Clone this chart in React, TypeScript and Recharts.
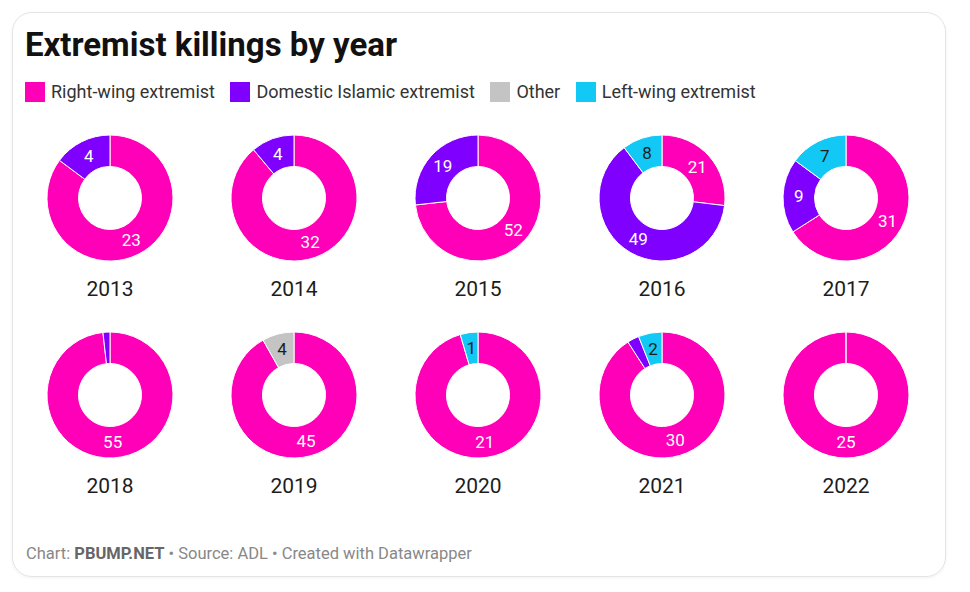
import React from "react";
import { PieChart, Pie, Cell } from "recharts";

// Killings per year by category (ADL)
const years = ["2013", "2014", "2015", "2016", "2017", "2018", "2019", "2020", "2021", "2022"];
const rightWing = [23, 32, 52, 21, 31, 55, 45, 21, 30, 25];
const islamic = [4, 4, 19, 49, 9, 1, 0, 0, 1, 0];
const other = [0, 0, 0, 0, 0, 0, 4, 0, 0, 0];
const leftWing = [0, 0, 0, 8, 7, 0, 0, 1, 2, 0];

const categories = ["Right-wing extremist", "Domestic Islamic extremist", "Other", "Left-wing extremist"];
const colors = ["#ff00b8", "#8000ff", "#c4c4c4", "#12c8f4"];
const labelColors = ["#ffffff", "#ffffff", "#1d1d1d", "#1d1d1d"];

const FONT = "Roboto, 'Noto Sans', sans-serif";
const RAD = Math.PI / 180;

function SliceLabel(props: any) {
  const { cx, cy, innerRadius, outerRadius, midAngle, startAngle, endAngle, value, index } = props;
  if (Math.abs(endAngle - startAngle) < 12) return null;
  const r = (innerRadius + outerRadius) / 2;
  const x = cx + r * Math.cos(-midAngle * RAD);
  const y = cy + r * Math.sin(-midAngle * RAD);
  const cat = props.payload?.cat ?? index;
  return (
    <text x={x} y={y} fill={labelColors[cat]} textAnchor="middle" dominantBaseline="central"
      style={{ fontFamily: FONT, fontSize: 17 }}>
      {value}
    </text>
  );
}

function Donut({ i }: { i: number }) {
  const data = [rightWing[i], islamic[i], other[i], leftWing[i]]
    .map((v, cat) => ({ name: categories[cat], value: v, cat }))
    .filter((d) => d.value > 0);
  return (
    <PieChart width={184} height={140} margin={{ top: 0, right: 0, bottom: 0, left: 0 }}>
      <Pie
        data={data} dataKey="value" cx={92} cy={70}
        innerRadius={31.5} outerRadius={63}
        startAngle={90} endAngle={-270}
        stroke="#ffffff" strokeWidth={1}
        label={SliceLabel} labelLine={false}
        isAnimationActive={false}
      >
        {data.map((d) => <Cell key={d.cat} fill={colors[d.cat]} />)}
      </Pie>
    </PieChart>
  );
}

export default function App() {
  return (
    <div style={{ position: "absolute", left: 0, top: 0, width: 970, height: 592, background: "#fff", fontFamily: FONT, overflow: "hidden" }}>
      <div style={{
        position: "absolute", left: 12, top: 12, width: 932, height: 563,
        border: "1px solid #e4e4e4", borderRadius: 20, boxShadow: "0 1px 3px rgba(0,0,0,0.06)",
      }} />
      <div style={{ position: "absolute", left: 25, top: 27.5, fontSize: 33, fontWeight: 700, lineHeight: 1, color: "#111", whiteSpace: "nowrap" }}>
        Extremist killings by year
      </div>
      <div style={{ position: "absolute", left: 25, top: 81.7, height: 20, display: "flex", alignItems: "center", whiteSpace: "nowrap" }}>
        {categories.map((c, k) => (
          <div key={c} style={{ display: "flex", alignItems: "center", marginRight: 15.5 }}>
            <span style={{ width: 20, height: 20, background: colors[k], display: "inline-block", marginRight: 6 }} />
            <span style={{ fontSize: 18, lineHeight: "20px", color: "#333" }}>{c}</span>
          </div>
        ))}
      </div>
      {years.map((y, i) => {
        const col = i % 5;
        const row = Math.floor(i / 5);
        const left = 18 + col * 184;
        const top = 128.3 + row * 196.7;
        return (
          <div key={y} style={{ position: "absolute", left, top, width: 184 }}>
            <Donut i={i} />
            <div style={{ position: "absolute", left: 0, top: 150.5, width: 184, textAlign: "center", fontSize: 21, lineHeight: 1, color: "#1d1d1d" }}>
              {y}
            </div>
          </div>
        );
      })}
      <div style={{ position: "absolute", left: 26, top: 545.5, fontSize: 16.5, lineHeight: 1, color: "#888", whiteSpace: "nowrap" }}>
        Chart: <b style={{ color: "#666" }}>PBUMP.NET</b> • Source: ADL • Created with Datawrapper
      </div>
    </div>
  );
}
